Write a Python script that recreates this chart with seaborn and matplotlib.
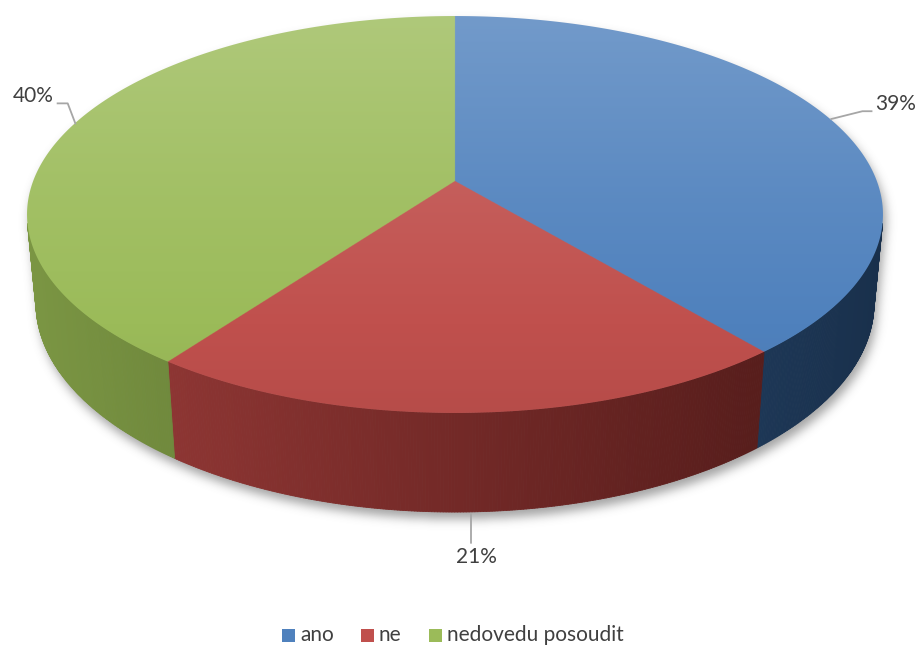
import numpy as np
import matplotlib
matplotlib.use("Agg")
import matplotlib.pyplot as plt
import seaborn as sns
from matplotlib.path import Path
from matplotlib.patches import PathPatch, Rectangle
from matplotlib.collections import PolyCollection
from matplotlib.colors import to_rgb

# --- data -------------------------------------------------------------
categories = ["ano", "ne", "nedovedu posoudit"]
shares = [39, 21, 40]
slice_colors = ["#4F81BD", "#C0504D", "#9BBB59"]

sns.set_theme(style="white")
plt.rcParams["font.family"] = ["Lato", "DejaVu Sans"]
TEXT = "#404040"
LEADER = "#A6A6A6"

W, H = 918, 646
fig = plt.figure(figsize=(W / 100, H / 100), dpi=100)
ax = fig.add_axes([0, 0, 1, 1])
ax.set_xlim(0, W)
ax.set_ylim(H, 0)
ax.axis("off")

# --- perspective camera for a flat 3-D disc ---------------------------
CX, CY = 455.0, 181.0          # projected centre of the disc
FOC = 2223.0
DIST = 5.27
ELEV = np.radians(27.2)
THICK = 0.2377
sa, ca = np.sin(ELEV), np.cos(ELEV)


def project(phi_deg, z=0.0):
    phi = np.radians(np.asarray(phi_deg, float))
    X, Y = np.cos(phi), np.sin(phi)
    depth = DIST + Y * ca - z * sa
    return CX + FOC * X / depth, CY - FOC * (Y * sa + z * ca) / depth


def unproject_top(u, v):
    """Angle (deg) on the top face for screen points (u, v)."""
    sx, sy = u - CX, CY - v
    Y = sy * DIST / (FOC * sa - sy * ca)
    X = sx * (DIST + Y * ca) / FOC
    return np.degrees(np.arctan2(Y, X))


fr = np.asarray(shares, float) / np.sum(shares)
cum = 360 * np.cumsum(fr)
edges = 90 - 360 * np.concatenate([[0], np.cumsum(fr)])   # clockwise from 12 o'clock

phi_sil = np.degrees(np.arcsin(-1.0 / (DIST * ca)))        # right silhouette
vis_hi, vis_lo = phi_sil, -180 - phi_sil

# --- soft drop shadow -------------------------------------------------
top_back = np.linspace(phi_sil, 180 - phi_sil, 200)
bot_front = np.linspace(180 - phi_sil, 360 + phi_sil, 200)
sx1, sy1 = project(top_back, 0)
sx2, sy2 = project(bot_front, -THICK)
outline = np.column_stack([np.r_[sx1, sx2], np.r_[sy1, sy2]]) + [3, 7]
gx, gy = np.meshgrid(np.arange(W) + 0.5, np.arange(H) + 0.5)
mask = Path(outline).contains_points(np.column_stack([gx.ravel(), gy.ravel()]))
mask = mask.reshape(H, W).astype(float)
sig = 5.0
kx = np.arange(-15, 16)
kern = np.exp(-0.5 * (kx / sig) ** 2)
kern /= kern.sum()
blur = np.apply_along_axis(lambda r: np.convolve(r, kern, mode="same"), 1, mask)
blur = np.apply_along_axis(lambda r: np.convolve(r, kern, mode="same"), 0, blur)
shadow = np.zeros((H, W, 4))
shadow[..., :3] = 0.35
shadow[..., 3] = 0.55 * blur
ax.imshow(shadow, extent=[0, W, H, 0], zorder=1, interpolation="bilinear")

# --- outer walls ------------------------------------------------------
for i, col in enumerate(slice_colors):
    hi = min(edges[i], vis_hi)
    lo = max(edges[i + 1], vis_lo)
    if lo >= hi:
        continue
    phis = np.linspace(hi, lo, int((hi - lo) * 3) + 2)
    xt, yt = project(phis, 0)
    xb, yb = project(phis, -THICK)
    quads, cols = [], []
    base = np.array(to_rgb(col))
    for k in range(len(phis) - 1):
        quads.append([(xt[k], yt[k]), (xt[k + 1], yt[k + 1]),
                      (xb[k + 1], yb[k + 1]), (xb[k], yb[k])])
        xm = 0.5 * (xt[k] + xt[k + 1])
        f = np.interp(xm, [27, 882], [0.80, 0.40])
        c = base * f
        c = c - 0.25 * (1 - f) * (c.max() - c)   # keep the darker side saturated
        cols.append(np.clip(c, 0, 1))
    ax.add_collection(PolyCollection(quads, facecolors=cols, edgecolors=cols,
                                     linewidths=0.6, zorder=2))

# --- top face: one supersampled image, slice chosen per pixel ------------
SS = 3
uu, vv = np.meshgrid((np.arange(W * SS) + 0.5) / SS, (np.arange(H * SS) + 0.5) / SS)
ang = unproject_top(uu, vv)
clockwise = np.mod(90 - ang, 360)
idx = np.clip(np.searchsorted(cum, clockwise), 0, len(shares) - 1)
bases = np.array([to_rgb(c) for c in slice_colors])
t = np.interp(vv, [16, 200, 413], [0.20, 0.07, -0.05])[..., None]
rgb = bases[idx]
rgb = np.where(t >= 0, rgb + (1 - rgb) * t, rgb * (1 + t))
top_phis = np.linspace(0, 360, 721)
ex, ey = project(top_phis, 0)
rim = PathPatch(Path(np.column_stack([ex, ey]), closed=True),
                facecolor="none", edgecolor="none", zorder=3)
ax.add_patch(rim)
img = ax.imshow(rgb, extent=[0, W, H, 0], zorder=3, interpolation="antialiased")
img.set_clip_path(rim)

ax.set_xlim(0, W)
ax.set_ylim(H, 0)

# --- data labels with leader lines --------------------------------------
mids = 0.5 * (edges[:-1] + edges[1:])
labels = [f"{v}%" for v in shares]

# ano (right)
ax0, ay0 = project(mids[0], 0)
ax.plot([ax0, ax0 + 32, ax0 + 42], [ay0, ay0 - 8, ay0 - 8], color=LEADER,
        lw=1.3, zorder=5, solid_capstyle="butt")
ax.text(ax0 + 45, ay0 - 15, labels[0], ha="left", va="center",
        fontsize=15, color=TEXT, zorder=6)

# ne (front)
bx0, by0 = project(mids[1], -THICK)
ax.plot([bx0, bx0], [by0 + 2, by0 + 31], color=LEADER, lw=1.3, zorder=5)
ax.text(bx0 + 6, by0 + 45, labels[1], ha="center", va="center",
        fontsize=15, color=TEXT, zorder=6)

# nedovedu posoudit (left)
cx0, cy0 = project(mids[2], 0)
ax.plot([cx0 + 2, cx0 - 6, cx0 - 17], [cy0, cy0 - 21, cy0 - 21], color=LEADER,
        lw=1.3, zorder=5, solid_capstyle="butt")
ax.text(cx0 - 20, cy0 - 28, labels[2], ha="right", va="center",
        fontsize=15, color=TEXT, zorder=6)

# --- legend -------------------------------------------------------------
leg_x = [282, 361, 429]
for x0, col, name in zip(leg_x, slice_colors, categories):
    ax.add_patch(Rectangle((x0, 629), 13, 13, facecolor=col, edgecolor="none",
                           zorder=6))
    ax.text(x0 + 18, 635, name, ha="left", va="center", fontsize=15,
            color=TEXT, zorder=6)

fig.savefig("out.png", dpi=100, facecolor="white")
